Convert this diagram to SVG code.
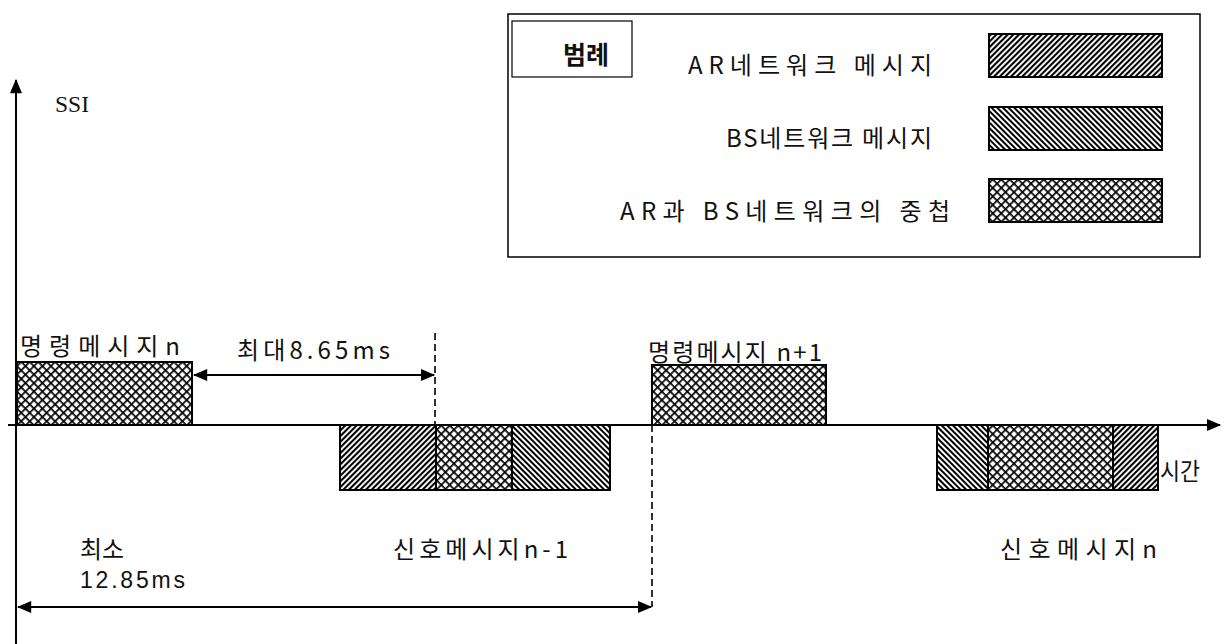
<svg xmlns="http://www.w3.org/2000/svg" width="1229" height="644" viewBox="0 0 1229 644">
<style>
.t{font-family:"Noto Sans CJK KR","Liberation Sans",sans-serif;font-size:24px;fill:#111}
.n{font-family:"Liberation Sans","Noto Sans CJK KR",sans-serif;font-size:23px;fill:#111}
.box{stroke:#000;stroke-width:2}
.ax{stroke:#000;stroke-width:2;fill:none}
.dash{stroke:#000;stroke-width:1.6;stroke-dasharray:7 4;fill:none}
</style>
<defs>
<pattern id="ar" width="4" height="4" patternUnits="userSpaceOnUse" patternTransform="rotate(45)">
<rect width="4" height="4" fill="#fff"/><line x1="1" y1="0" x2="1" y2="4" stroke="#000" stroke-width="2.2"/>
</pattern>
<pattern id="bs" width="4" height="4" patternUnits="userSpaceOnUse" patternTransform="rotate(-45)">
<rect width="4" height="4" fill="#fff"/><line x1="1" y1="0" x2="1" y2="4" stroke="#000" stroke-width="2"/>
</pattern>
<pattern id="cx" width="6" height="6" patternUnits="userSpaceOnUse" patternTransform="rotate(45)">
<rect width="6" height="6" fill="#fff"/><line x1="0" y1="0" x2="6" y2="0" stroke="#000" stroke-width="3.4"/><line x1="0" y1="0" x2="0" y2="6" stroke="#000" stroke-width="3.4"/>
</pattern>
<marker id="ah" viewBox="0 0 12 10" refX="11" refY="5" markerWidth="7.5" markerHeight="6" orient="auto-start-reverse">
<path d="M0,0 L12,5 L0,10 z" fill="#000"/>
</marker>
</defs>

<g id="legend">
<rect x="508" y="14" width="692" height="243" fill="none" stroke="#000" stroke-width="1.5"/>
<rect x="512" y="21" width="120" height="56" fill="none" stroke="#000" stroke-width="1.2"/>
<text x="563" y="64" class="t" style="font-weight:700;font-size:25px">범례</text>
<text x="688" y="74" class="t" textLength="244" lengthAdjust="spacing">AR네트워크 메시지</text>
<text x="726" y="147" class="t" textLength="206" lengthAdjust="spacing">BS네트워크 메시지</text>
<text x="620" y="220" class="t" textLength="330" lengthAdjust="spacing">AR과 BS네트워크의 중첩</text>
<rect x="989" y="34" width="173" height="43" fill="url(#ar)" class="box"/>
<rect x="989" y="107" width="173" height="43" fill="url(#bs)" class="box"/>
<rect x="989" y="179" width="173" height="43" fill="url(#cx)" class="box"/>
</g>

<g id="axes">
<line x1="16" y1="80" x2="16" y2="644" class="ax" marker-start="url(#ah)"/>
<line x1="8" y1="425" x2="1220" y2="425" class="ax" marker-end="url(#ah)"/>
<text x="55" y="112" font-family="Liberation Serif,serif" font-size="24" fill="#111" textLength="34" lengthAdjust="spacingAndGlyphs">SSI</text>
<text x="1160" y="480" class="t" textLength="40" lengthAdjust="spacingAndGlyphs">시간</text>
</g>

<g id="cmd-n">
<rect x="17" y="362" width="175" height="63" fill="url(#cx)" class="box"/>
<text x="20" y="355" class="t" textLength="160" lengthAdjust="spacing">명령메시지n</text>
</g>

<g id="cmd-n1">
<rect x="652" y="365" width="174" height="60" fill="url(#cx)" class="box"/>
<text x="648" y="361" class="t" textLength="174" lengthAdjust="spacing">명령메시지 n+1</text>
</g>

<g id="sig-n-1">
<rect x="340" y="425" width="96" height="65" fill="url(#ar)" class="box"/>
<rect x="436" y="425" width="76" height="65" fill="url(#cx)" class="box"/>
<rect x="512" y="425" width="98" height="65" fill="url(#bs)" class="box"/>
<text x="393" y="558" class="t" textLength="175" lengthAdjust="spacing">신호메시지n-1</text>
</g>

<g id="sig-n">
<rect x="937" y="425" width="51" height="65" fill="url(#bs)" class="box"/>
<rect x="988" y="425" width="125" height="65" fill="url(#cx)" class="box"/>
<rect x="1113" y="425" width="45" height="65" fill="url(#ar)" class="box"/>
<text x="1000" y="558" class="t" textLength="157" lengthAdjust="spacing">신호메시지n</text>
</g>

<g id="connectors">
<line x1="435" y1="333" x2="435" y2="425" class="dash"/>
<line x1="652" y1="425" x2="652" y2="607" class="dash"/>
<line x1="194" y1="375" x2="434" y2="375" class="ax" marker-start="url(#ah)" marker-end="url(#ah)"/>
<line x1="18" y1="607" x2="651" y2="607" class="ax" marker-start="url(#ah)" marker-end="url(#ah)"/>
<text x="237" y="359" class="t" textLength="153" lengthAdjust="spacing">최대8.65ms</text>
<text x="80" y="558" class="t" textLength="44" lengthAdjust="spacing">최소</text>
<text x="80" y="588" class="n" textLength="105" lengthAdjust="spacing">12.85ms</text>
</g>
</svg>
